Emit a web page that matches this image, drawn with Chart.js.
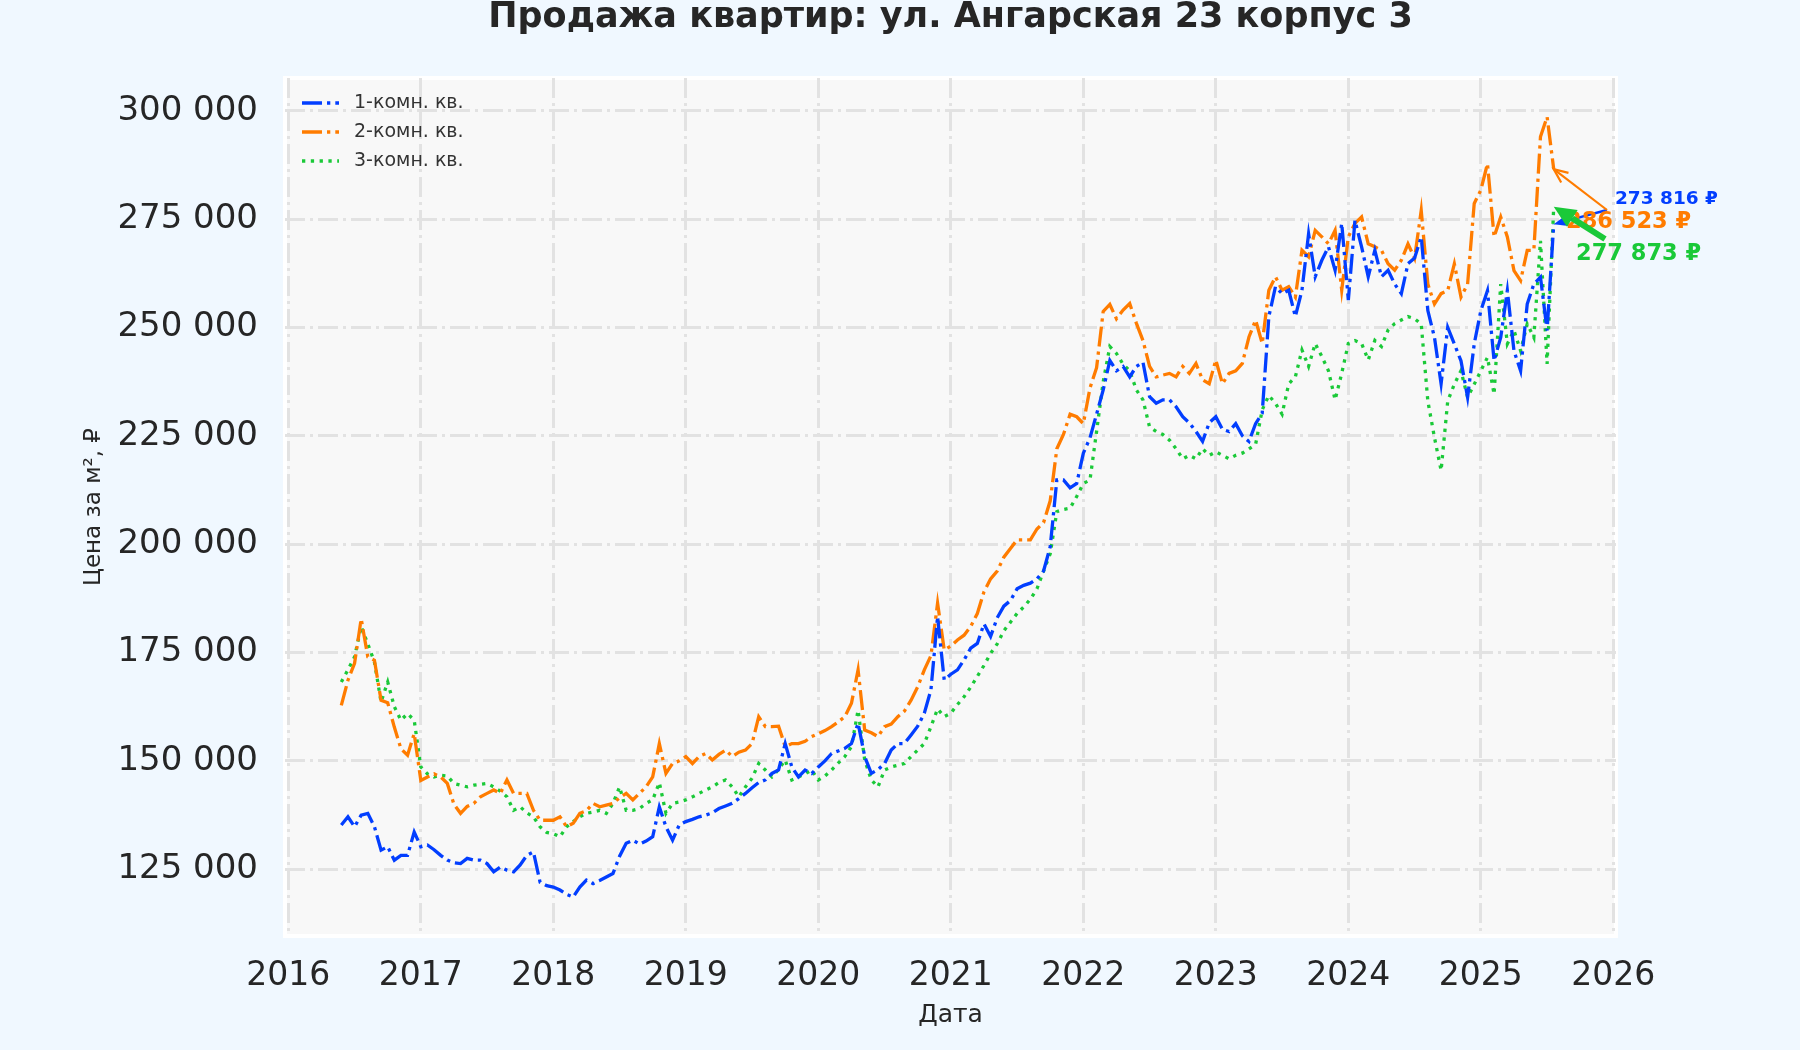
<!DOCTYPE html>
<html lang="ru">
<head>
<meta charset="utf-8">
<title>Продажа квартир: ул. Ангарская 23 корпус 3</title>
<script src="https://cdn.jsdelivr.net/npm/chart.js@4.4.1/dist/chart.umd.min.js"></script>
<style>
  html, body { margin: 0; padding: 0; background: #f0f8ff; }
  #wrap { width: 1800px; height: 1050px; position: relative; }
</style>
</head>
<body>
<div id="wrap"><canvas id="priceChart"></canvas></div>
<script>
// даты в долях года (шаг ~18 дней)
var dates = [
  2016.40, 2016.45, 2016.50, 2016.55, 2016.60, 2016.65, 2016.70, 2016.75, 2016.80, 2016.85, 2016.90, 2016.95,
  2017.00, 2017.05, 2017.10, 2017.15, 2017.20, 2017.25, 2017.30, 2017.35, 2017.40, 2017.45, 2017.50, 2017.55, 2017.60, 2017.65, 2017.70, 2017.75, 2017.80, 2017.85, 2017.90, 2017.95,
  2018.00, 2018.05, 2018.10, 2018.15, 2018.20, 2018.25, 2018.30, 2018.35, 2018.40, 2018.45, 2018.50, 2018.55, 2018.60, 2018.65, 2018.70, 2018.75, 2018.80, 2018.85, 2018.90, 2018.95,
  2019.00, 2019.05, 2019.10, 2019.15, 2019.20, 2019.25, 2019.30, 2019.35, 2019.40, 2019.45, 2019.50, 2019.55, 2019.60, 2019.65, 2019.70, 2019.75, 2019.80, 2019.85, 2019.90, 2019.95,
  2020.00, 2020.05, 2020.10, 2020.15, 2020.20, 2020.25, 2020.30, 2020.35, 2020.40, 2020.45, 2020.50, 2020.55, 2020.60, 2020.65, 2020.70, 2020.75, 2020.80, 2020.85, 2020.90, 2020.95,
  2021.00, 2021.05, 2021.10, 2021.15, 2021.20, 2021.25, 2021.30, 2021.35, 2021.40, 2021.45, 2021.50, 2021.55, 2021.60, 2021.65, 2021.70, 2021.75, 2021.80, 2021.85, 2021.90, 2021.95,
  2022.00, 2022.05, 2022.10, 2022.15, 2022.20, 2022.25, 2022.30, 2022.35, 2022.40, 2022.45, 2022.50, 2022.55, 2022.60, 2022.65, 2022.70, 2022.75, 2022.80, 2022.85, 2022.90, 2022.95,
  2023.00, 2023.05, 2023.10, 2023.15, 2023.20, 2023.25, 2023.30, 2023.35, 2023.40, 2023.45, 2023.50, 2023.55, 2023.60, 2023.65, 2023.70, 2023.75, 2023.80, 2023.85, 2023.90, 2023.95,
  2024.00, 2024.05, 2024.10, 2024.15, 2024.20, 2024.25, 2024.30, 2024.35, 2024.40, 2024.45, 2024.50, 2024.55, 2024.60, 2024.65, 2024.70, 2024.75, 2024.80, 2024.85, 2024.90, 2024.95,
  2025.00, 2025.05, 2025.10, 2025.15, 2025.20, 2025.25, 2025.30, 2025.35, 2025.40, 2025.45, 2025.50, 2025.55
];

// цена за м², тыс. руб.
var room1 = [
  135.2, 137.1, 134.8, 137.5, 137.9, 134.8, 129.4, 130.2, 127.1, 128.2, 128.2, 133.6,
  130.2, 130.6, 129.5, 128.2, 127.1, 126.5, 126.3, 127.5, 127.1, 127.1, 126.3, 124.4, 125.5, 124.8, 124.4, 126.0, 128.2, 129.0, 122.0, 121.2,
  120.9, 120.2, 119.2, 118.6, 120.9, 122.5, 121.7, 122.4, 123.2, 124.0, 128.0, 131.0, 131.7, 130.8, 131.5, 132.5, 139.4, 134.8, 131.7, 135.2,
  136.0, 136.5, 137.1, 137.5, 138.0, 139.0, 139.6, 140.2, 141.3, 142.5, 143.8, 145.0, 145.6, 147.1, 147.9, 154.0, 148.6, 146.3, 147.9, 147.1,
  148.6, 150.0, 151.7, 152.3, 152.9, 154.0, 158.7, 151.0, 147.1, 148.0, 149.4, 152.5, 154.0, 154.0, 156.0, 158.0, 161.0, 166.4, 183.3, 168.7,
  170.0, 171.0, 173.3, 176.0, 177.1, 181.6, 178.7, 183.0, 185.7, 187.0, 189.7, 190.5, 191.0, 192.0, 193.8, 199.4, 214.8, 214.8, 213.0, 214.0,
  221.0, 224.5, 230.0, 235.6, 242.4, 240.0, 241.0, 238.6, 241.0, 242.0, 234.0, 232.5, 233.3, 233.3, 231.7, 229.4, 228.0, 226.0, 223.7, 228.0,
  229.4, 226.5, 226.0, 227.8, 225.0, 223.7, 227.8, 230.2, 252.5, 259.4, 257.8, 258.6, 252.5, 258.6, 271.6, 261.7, 265.5, 268.6, 263.2, 274.0,
  256.3, 274.7, 268.6, 261.7, 267.8, 261.7, 263.2, 260.0, 257.8, 264.7, 266.0, 270.9, 253.9, 247.7, 237.0, 250.0, 246.2, 242.3, 233.9, 246.2,
  253.9, 258.5, 242.3, 247.7, 258.5, 244.6, 240.0, 255.4, 260.0, 261.6, 249.3, 273.816
];
var room2 = [
  162.8, 168.6, 172.5, 182.8, 174.0, 173.2, 164.0, 163.4, 157.8, 152.8, 151.3, 156.3,
  145.5, 146.3, 147.0, 146.3, 144.8, 140.0, 137.9, 139.5, 140.2, 141.7, 142.5, 143.3, 142.5, 145.6, 142.5, 142.5, 142.5, 138.6, 136.3, 136.3,
  136.3, 137.1, 134.8, 135.6, 137.9, 138.5, 140.2, 139.4, 139.8, 140.2, 141.5, 142.5, 141.0, 142.5, 144.0, 146.3, 154.0, 147.1, 149.4, 150.0,
  151.0, 149.4, 151.0, 151.7, 150.2, 151.5, 152.5, 151.0, 152.0, 152.5, 154.0, 160.2, 157.9, 157.9, 158.0, 153.3, 154.0, 154.0, 154.5, 155.6,
  156.3, 157.0, 157.9, 159.0, 160.2, 163.3, 171.0, 157.1, 156.5, 155.6, 157.9, 158.5, 160.2, 161.5, 164.0, 167.1, 171.0, 174.3, 186.4, 175.6,
  176.5, 177.9, 179.0, 181.0, 184.0, 189.0, 192.0, 193.8, 197.0, 199.0, 201.0, 201.0, 201.0, 203.5, 205.0, 210.0, 222.0, 225.3, 230.0, 229.4,
  227.8, 236.0, 240.7, 253.7, 255.3, 252.0, 254.0, 255.5, 251.0, 247.0, 241.0, 238.6, 239.0, 239.4, 238.6, 241.0, 239.4, 241.7, 237.9, 237.0,
  242.5, 237.0, 239.4, 240.0, 241.7, 247.8, 251.7, 246.3, 258.6, 261.7, 258.6, 259.4, 257.0, 267.8, 266.3, 272.4, 270.9, 269.3, 272.4, 258.6,
  270.9, 274.0, 275.5, 269.3, 268.6, 267.8, 264.7, 263.2, 265.5, 269.3, 266.0, 277.0, 260.0, 255.4, 257.8, 258.5, 264.7, 257.0, 260.0, 278.6,
  281.7, 287.8, 270.9, 275.5, 270.9, 263.1, 260.8, 267.8, 267.8, 294.0, 298.6, 286.523
];
var room3 = [
  168.2, 171.0, 174.0, 181.0, 177.0, 172.8, 163.6, 168.2, 162.5, 159.4, 160.9, 159.4,
  148.6, 147.0, 146.3, 146.7, 146.5, 144.8, 144.4, 144.0, 144.4, 144.6, 144.8, 144.0, 143.0, 141.7, 138.6, 139.4, 138.0, 137.1, 134.8, 133.5,
  133.2, 132.5, 134.8, 136.0, 137.1, 137.9, 138.2, 138.6, 137.9, 140.2, 144.0, 138.6, 138.6, 139.0, 140.2, 141.0, 145.0, 137.9, 140.2, 140.5,
  141.0, 141.7, 142.5, 143.3, 144.0, 145.0, 145.6, 144.0, 141.7, 144.0, 146.0, 149.4, 147.9, 146.3, 148.0, 150.2, 145.6, 146.3, 147.0, 147.9,
  145.6, 146.5, 147.9, 149.5, 151.0, 153.3, 161.7, 150.2, 145.6, 144.0, 147.9, 148.6, 149.0, 149.4, 151.0, 152.5, 154.0, 157.9, 162.0, 160.2,
  161.0, 163.0, 164.8, 167.0, 169.5, 172.0, 174.8, 177.0, 180.0, 182.0, 184.0, 185.5, 187.3, 189.7, 193.8, 197.8, 207.5, 208.0, 208.3, 211.0,
  214.0, 214.8, 226.0, 237.5, 245.6, 244.0, 241.5, 240.0, 235.6, 233.3, 227.0, 226.0, 225.3, 224.0, 222.0, 219.7, 220.5, 219.7, 222.0, 220.5,
  221.3, 220.5, 219.7, 220.5, 221.0, 222.0, 223.0, 231.0, 234.3, 232.5, 230.0, 237.0, 238.6, 244.8, 241.0, 246.3, 243.3, 240.0, 233.3, 239.4,
  246.3, 247.0, 246.3, 242.5, 247.0, 245.6, 249.4, 250.9, 251.7, 252.5, 252.0, 250.8, 233.0, 224.6, 217.0, 233.0, 236.9, 240.0, 233.9, 236.9,
  240.0, 243.1, 234.6, 260.0, 246.2, 249.3, 244.6, 250.8, 247.7, 270.0, 241.6, 277.873
];

var seriesNames = ['1-комн. кв.', '2-комн. кв.', '3-комн. кв.'];
var lastLabels = ['273 816 ₽', '286 523 ₽', '277 873 ₽'];
var yTicks = [125000, 150000, 175000, 200000, 225000, 250000, 275000, 300000];
var xTicks = [2016, 2017, 2018, 2019, 2020, 2021, 2022, 2023, 2024, 2025, 2026];

var colors = ['#023eff', '#ff7c00', '#1ac938'];
var dashes = [[20, 5, 3.3, 5], [20, 5, 3.3, 5], [3.3, 5.5]];

function toPoints(vals) {
  return dates.map(function (d, i) { return { x: d, y: vals[i] * 1000 }; });
}
function spaced(v) {
  return String(v).replace(/\B(?=(\d{3})+(?!\d))/g, ' ');
}

Chart.defaults.font.family = '"DejaVu Sans", sans-serif';
Chart.defaults.color = '#262626';

// фон фигуры и области графика
var bgPlugin = {
  id: 'bg',
  beforeDraw: function (chart) {
    var ctx = chart.ctx, a = chart.chartArea;
    ctx.save();
    ctx.fillStyle = '#f0f8ff';
    ctx.fillRect(0, 0, chart.width, chart.height);
    ctx.fillStyle = '#f8f8f8';
    ctx.fillRect(a.left, a.top, a.right - a.left, a.bottom - a.top);
    ctx.strokeStyle = '#ffffff';
    ctx.lineWidth = 4;
    ctx.strokeRect(a.left, a.top, a.right - a.left, a.bottom - a.top);
    ctx.restore();
  }
};

// легенда внутри области графика
var legendPlugin = {
  id: 'innerLegend',
  afterDatasetsDraw: function (chart) {
    var ctx = chart.ctx, a = chart.chartArea;
    ctx.save();
    ctx.font = '19px "DejaVu Sans"';
    ctx.textBaseline = 'middle';
    seriesNames.forEach(function (name, i) {
      var y = a.top + 25 + i * 29;
      ctx.strokeStyle = colors[i];
      ctx.lineWidth = 3.3;
      ctx.setLineDash(dashes[i]);
      ctx.beginPath();
      ctx.moveTo(a.left + 17, y);
      ctx.lineTo(a.left + 54, y);
      ctx.stroke();
      ctx.setLineDash([]);
      ctx.fillStyle = '#333333';
      ctx.fillText(name, a.left + 69, y);
    });
    ctx.restore();
  }
};

function arrow(ctx, x0, y0, x1, y1, color, lw, len, wid, open) {
  var ang = Math.atan2(y1 - y0, x1 - x0);
  var bx = x1 - len * Math.cos(ang), by = y1 - len * Math.sin(ang);
  var px = Math.sin(ang) * wid / 2, py = -Math.cos(ang) * wid / 2;
  ctx.strokeStyle = color;
  ctx.fillStyle = color;
  ctx.lineWidth = lw;
  ctx.beginPath();
  ctx.moveTo(x0, y0);
  ctx.lineTo(open ? x1 : bx, open ? y1 : by);
  ctx.stroke();
  ctx.beginPath();
  if (open) {
    ctx.moveTo(bx + px, by + py);
    ctx.lineTo(x1, y1);
    ctx.lineTo(bx - px, by - py);
    ctx.stroke();
  } else {
    ctx.moveTo(x1, y1);
    ctx.lineTo(bx + px, by + py);
    ctx.lineTo(bx - px, by - py);
    ctx.closePath();
    ctx.fill();
  }
}

// подписи последних значений со стрелками
var lastValuePlugin = {
  id: 'lastValue',
  afterDatasetsDraw: function (chart) {
    var ctx = chart.ctx;
    var tails = [[1607, 210], [1607, 210], [1605, 239]];
    var texts = [[1615, 199, 18.5], [1566, 222, 22.5], [1576, 254, 22.5]];
    var styles = [[2.5, 14, 11, false], [2.2, 14, 12, true], [6, 22, 20, false]];
    ctx.save();
    ctx.lineCap = 'butt';
    [0, 1, 2].forEach(function (i) {
      var pts = chart.getDatasetMeta(i).data;
      var p = pts[pts.length - 1];
      ctx.font = 'bold ' + texts[i][2] + 'px "DejaVu Sans"';
      ctx.textBaseline = 'middle';
      ctx.fillStyle = colors[i];
      ctx.fillText(lastLabels[i], texts[i][0], texts[i][1]);
      arrow(ctx, tails[i][0], tails[i][1], p.x, p.y, colors[i], styles[i][0], styles[i][1], styles[i][2], styles[i][3]);
    });
    ctx.restore();
  }
};

var ctx = document.getElementById('priceChart').getContext('2d');
var priceChart = new Chart(ctx, {
  type: 'line',
  data: {
    datasets: [room1, room2, room3].map(function (vals, i) {
      return {
        label: seriesNames[i],
        data: toPoints(vals),
        borderColor: colors[i],
        borderWidth: 3.3,
        borderDash: dashes[i],
        borderCapStyle: 'butt',
        pointRadius: 0,
        tension: 0,
        fill: false
      };
    })
  },
  options: {
    responsive: true,
    maintainAspectRatio: false,
    animation: false,
    layout: { padding: { left: 0, right: 184, top: 0, bottom: 0 } },
    plugins: {
      legend: { display: false },
      tooltip: { enabled: false },
      title: {
        display: true,
        text: 'Продажа квартир: ул. Ангарская 23 корпус 3',
        fullSize: false,
        color: '#262626',
        font: { size: 35, weight: 'bold', lineHeight: 1 },
        padding: { top: 0, bottom: 43 }
      }
    },
    scales: {
      x: {
        type: 'linear',
        min: 2015.975,
        max: 2026.02,
        afterBuildTicks: function (scale) {
          scale.ticks = xTicks.map(function (v) { return { value: v }; });
        },
        afterFit: function (scale) { scale.height = 114; },
        ticks: {
          font: { size: 33 },
          padding: 21,
          maxRotation: 0,
          callback: function (v) { return String(v); }
        },
        grid: { color: '#e2e2e2', lineWidth: 3, drawTicks: false, borderDash: [20, 5, 3, 5] },
        border: { display: false, dash: [20, 5, 3, 5] },
        title: { display: true, text: 'Дата', font: { size: 25 }, padding: { top: 0, bottom: 20 } }
      },
      y: {
        min: 109600,
        max: 307550,
        afterBuildTicks: function (scale) {
          scale.ticks = yTicks.map(function (v) { return { value: v }; });
        },
        afterFit: function (scale) { scale.width = 285; },
        ticks: {
          font: { size: 34 },
          padding: 27,
          callback: function (v) { return spaced(v); }
        },
        grid: { color: '#e2e2e2', lineWidth: 3, drawTicks: false, borderDash: [20, 5, 3, 5] },
        border: { display: false, dash: [20, 5, 3, 5] },
        title: { display: true, text: 'Цена за м², ₽', font: { size: 23 }, padding: { top: 80, bottom: 0 } }
      }
    }
  },
  plugins: [bgPlugin, legendPlugin, lastValuePlugin]
});
</script>
</body>
</html>
